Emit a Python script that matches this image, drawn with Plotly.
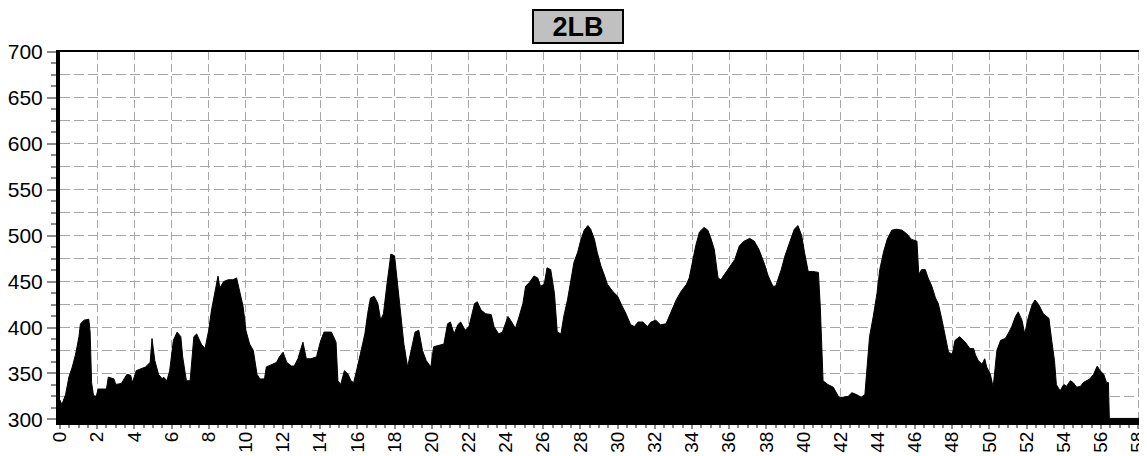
import plotly.graph_objects as go

# distance (x) and value (y)
dist = [0, 0.1, 0.3, 0.48, 0.66, 0.84, 1.02, 1.1, 1.3, 1.55, 1.62, 1.7, 1.8, 1.95, 2.05, 2.5, 2.6, 2.9,
        3.0, 3.3, 3.6, 3.8, 3.9, 4.1, 4.6, 4.85, 4.95, 5.1, 5.3, 5.5, 5.57, 5.75, 5.9, 6.1, 6.3, 6.5,
        6.6, 6.8, 7.0, 7.2, 7.35, 7.6, 7.8, 8.0, 8.15, 8.35, 8.5, 8.6, 8.8, 9.05, 9.3, 9.5, 9.7, 9.85,
        10.0, 10.2, 10.4, 10.6, 10.75, 11.0, 11.1, 11.4, 11.65, 11.8, 12.0, 12.2, 12.45, 12.6, 12.8,
        13.07, 13.25, 13.5, 13.8, 14.0, 14.2, 14.6, 14.85, 14.95, 15.1, 15.3, 15.5, 15.65, 15.8, 16.0,
        16.2, 16.4, 16.55, 16.7, 16.9, 17.1, 17.25, 17.4, 17.6, 17.8, 18.0, 18.15, 18.3, 18.5, 18.7,
        18.9, 19.1, 19.3, 19.5, 19.7, 19.95, 20.1, 20.4, 20.65, 20.85, 21.0, 21.2, 21.4, 21.55, 21.8,
        22.0, 22.3, 22.45, 22.65, 22.9, 23.2, 23.35, 23.6, 23.8, 24.0, 24.1, 24.3, 24.5, 24.7, 24.9,
        25.05, 25.25, 25.5, 25.7, 25.85, 26.05, 26.2, 26.4, 26.6, 26.75, 26.95, 27.1, 27.3, 27.5,
        27.65, 27.85, 28.0, 28.2, 28.4, 28.55, 28.75, 28.9, 29.1, 29.3, 29.45, 29.75, 30.0, 30.2,
        30.45, 30.7, 30.9, 31.1, 31.35, 31.6, 31.8, 32.05, 32.3, 32.6, 32.85, 33.15, 33.4, 33.7,
        33.85, 34.05, 34.2, 34.4, 34.65, 34.85, 35.0, 35.2, 35.4, 35.55, 35.75, 36.0, 36.3, 36.55,
        36.8, 37.1, 37.35, 37.6, 37.9, 38.1, 38.35, 38.5, 38.8, 39.0, 39.25, 39.5, 39.7, 39.9, 40.05,
        40.25, 40.5, 40.8, 40.9, 41.05, 41.3, 41.6, 41.9, 42.1, 42.4, 42.6, 42.85, 43.1, 43.3, 43.4,
        43.55, 43.75, 43.95, 44.1, 44.3, 44.5, 44.75, 45.0, 45.3, 45.55, 45.8, 46.1, 46.2, 46.35,
        46.55, 46.7, 46.9, 47.1, 47.25, 47.45, 47.6, 47.8, 48.0, 48.15, 48.4, 48.7, 48.95, 49.15,
        49.25, 49.4, 49.6, 49.75, 49.85, 50.05, 50.2, 50.4, 50.6, 50.85, 51.0, 51.2, 51.4, 51.55,
        51.75, 51.9, 52.1, 52.3, 52.45, 52.65, 52.9, 53.2, 53.35, 53.5, 53.6, 53.8, 54.0, 54.15,
        54.35, 54.5, 54.7, 54.9, 55.05, 55.25, 55.4, 55.6, 55.8, 55.95, 56.15, 56.3, 56.4, 56.45, 58.1]

values = [321, 316, 327, 346, 357, 371, 390, 404, 408, 409, 395, 340, 326, 325, 333, 333, 346, 344,
          338, 339, 349, 348, 340, 353, 357, 362, 388, 364, 349, 344, 346, 342, 353, 386, 395, 390,
          368, 342, 342, 390, 393, 382, 377, 397, 419, 441, 456, 443, 450, 452, 452, 454, 437, 423,
          397, 382, 375, 349, 344, 344, 357, 360, 362, 368, 373, 362, 358, 358, 366,
          384, 366, 366, 368, 384, 395, 395, 384, 342, 338, 353, 349, 342, 340, 357,
          375, 393, 415, 432, 434, 426, 408, 415, 449, 480, 478, 449, 415, 382, 357,
          375, 395, 397, 375, 364, 357, 379, 381, 382, 404, 406, 393, 403, 406, 397,
          401, 426, 428, 419, 415, 414, 401, 393, 395, 408, 412, 406, 399, 412, 426,
          445, 449, 456, 454, 445, 447, 465, 463, 437, 395, 393, 412, 430, 452,
          471, 482, 494, 506, 511, 507, 496, 482, 467, 456, 447, 439, 434, 425,
          415, 403, 401, 406, 406, 401, 406, 408, 403, 404, 415, 430, 439, 447,
          454, 474, 489, 504, 509, 506, 498, 485, 454, 452, 458, 465, 474, 489,
          494, 497, 494, 485, 469, 456, 445, 445, 463, 478, 493, 507, 511, 500, 482,
          461, 461, 460, 423, 342, 338, 335, 324, 324, 325, 329, 327, 324, 327, 357,
          390, 412, 437, 463, 482, 496, 506, 507, 506, 502, 496, 494, 458, 463,
          463, 454, 445, 432, 426, 408, 393, 373, 371, 386, 390, 384, 377, 377,
          370, 364, 360, 366, 357, 349, 335, 375, 386, 388, 393, 401, 412, 417,
          408, 393, 412, 425, 430, 425, 415, 410, 386, 364, 338, 331, 338, 336,
          342, 340, 335, 336, 340, 342, 344, 349, 358, 353, 349, 340, 340, 301, 301]

title_text = "2LB"
x_range = [0, 58.1]
y_range = [296, 700]

FONT = "Liberation Sans, Arial, sans-serif"
GRID = "#a6a6a6"
TICK = "#8c8c8c"

fig = go.Figure()
fig.add_trace(go.Scatter(x=dist, y=values, mode="lines", fill="tozeroy",
                         line=dict(color="black", width=1), fillcolor="black",
                         showlegend=False, hoverinfo="skip"))
# helper trace so the overlay grid axis exists
fig.add_trace(go.Scatter(x=[None], y=[None], yaxis="y2", showlegend=False, hoverinfo="skip"))

# the page body has an 8px margin, so the figure is sized/offset to compensate
fig.update_layout(
    width=1139, height=448,
    margin=dict(l=52, r=7, t=44, b=33, autoexpand=False),
    paper_bgcolor="white", plot_bgcolor="white",
    font=dict(family=FONT, color="black"),
    xaxis=dict(range=x_range, dtick=2, tick0=0, tickangle=-90,
               tickfont=dict(size=19, family=FONT, color="black"),
               ticklabelstandoff=-5, ticklabeloverflow="allow",
               showgrid=True, gridcolor=GRID, gridwidth=1, griddash="8px,4px",
               ticks="outside", ticklen=4, tickwidth=2, tickcolor=TICK,
               minor=dict(dtick=0.5, ticks="outside", ticklen=3, tickwidth=2, tickcolor=TICK, showgrid=False),
               showline=True, linecolor="black", linewidth=2, mirror=True,
               zeroline=False, automargin=False),
    yaxis=dict(range=y_range, dtick=50, tick0=300,
               tickfont=dict(size=21, family=FONT, color="black"),
               showgrid=False,
               ticks="outside", ticklen=9, tickwidth=2, tickcolor=TICK,
               minor=dict(dtick=12.5, tick0=300, ticks="outside", ticklen=5, tickwidth=2, tickcolor=TICK, showgrid=False),
               showline=True, linecolor="black", linewidth=4, mirror="ticks",
               zeroline=False, automargin=False),
    yaxis2=dict(range=y_range, overlaying="y", dtick=25, tick0=300,
                showgrid=True, gridcolor=GRID, gridwidth=1, griddash="10px,4px",
                showticklabels=False, ticks="", zeroline=False, showline=False),
)

fig.add_annotation(text="<b>" + title_text + "</b>", xref="paper", yref="paper",
                   x=0.48, y=1.069, xanchor="center", yanchor="middle", showarrow=False,
                   font=dict(size=27, family=FONT, color="black"),
                   bgcolor="#c0c0c0", bordercolor="black", borderwidth=2,
                   width=86, height=29)

fig.write_html("out.html")
